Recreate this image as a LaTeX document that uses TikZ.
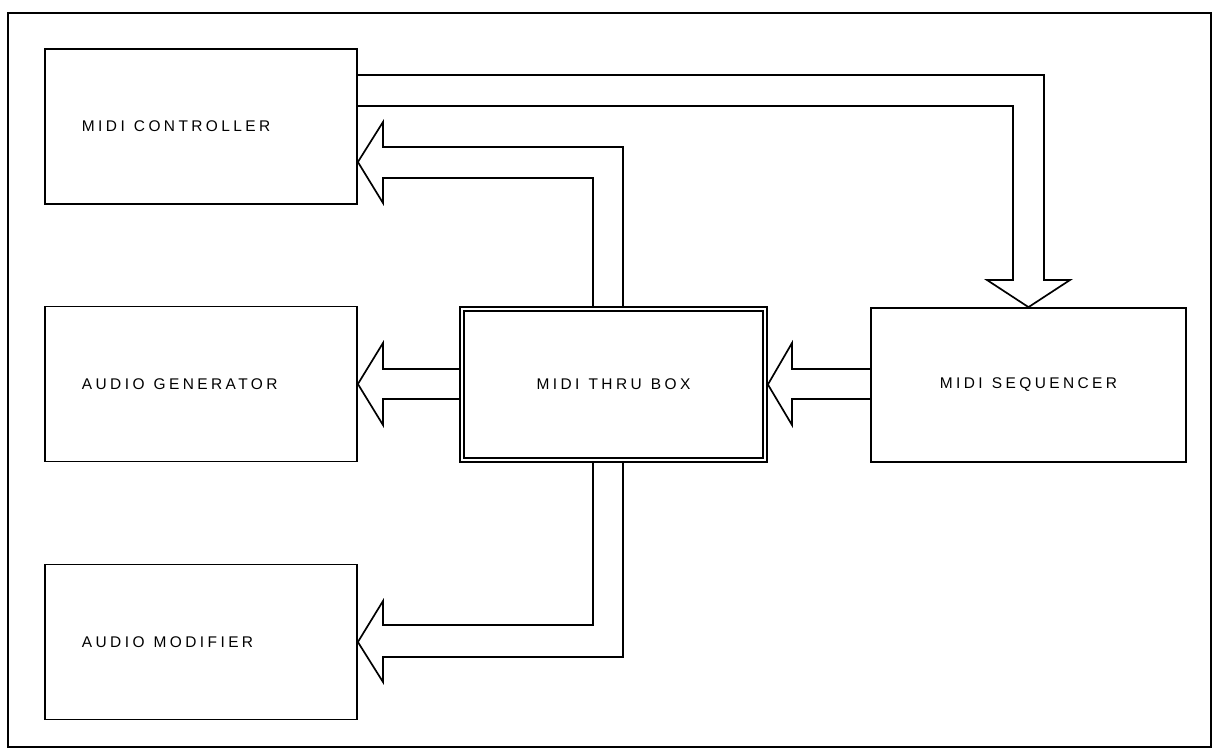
\documentclass[tikz,border=0pt]{standalone}
\usepackage{fontspec}
\usepackage{tikz}
\usetikzlibrary{calc}
\newfontfamily\plotfont[LetterSpace=22]{Liberation Sans}
\newcommand{\unitfont}{\plotfont\fontsize{11}{13}\selectfont\spaceskip=6.5pt\relax}

\begin{document}
\begin{tikzpicture}[
  x=0.025cm,y=-0.025cm,
  unit/.style={
    draw,
    line width=1.2pt,
    minimum width=7.8cm,
    minimum height=3.875cm,
    align=center,
    inner sep=0pt,
    font=\unitfont
  },
  leftunit/.style={
    unit,
    text width=5.95cm,
    align=flush left
  },
  pipe/.style={
    line width=1.2pt,
    line join=miter
  },
  frame/.style={
    line width=2pt
  }
]
\useasboundingbox (0,0) rectangle (1216,751);

% -------------------------------------------------
% Outer frame
% -------------------------------------------------
\draw[frame] (8,13) rectangle (1211,747);

% -------------------------------------------------
% Units
% -------------------------------------------------
\node[leftunit] (ctrl) at (201,126.5) {MIDI CONTROLLER};
\node[leftunit] (gen)  at (201,384)   {AUDIO GENERATOR};
\node[leftunit] (mod)  at (201,642)   {AUDIO MODIFIER};

\node[unit, minimum width=7.675cm] (thru) at (613.5,384.5) {MIDI THRU BOX};
\draw[line width=1.2pt] ($(thru.north west)+(5,5)$) rectangle ($(thru.south east)+(-5,-5)$);

\node[unit, minimum width=7.875cm, minimum height=3.85cm] (seq) at (1028.5,385)
  {MIDI SEQUENCER};

% -------------------------------------------------
% Block arrows
% -------------------------------------------------
% controller to sequencer
\draw[pipe] (ctrl.east |- 0,75) -- (1044,75) -- (1044,280) -- (1070,280)
  -- (seq.north) -- (987,280) -- (1013,280) -- (1013,106) -- (ctrl.east |- 0,106);

% thru box to controller
\draw[pipe] (thru.north -| 593,0) -- (593,178) -- (383,178) -- (383,203)
  -- (ctrl.east |- 0,162) -- (383,122) -- (383,147) -- (623,147) -- (thru.north -| 623,0);

% thru box to generator
\draw[pipe] (thru.west |- 0,369) -- (383,369) -- (383,343) -- (gen.east)
  -- (383,425) -- (383,399) -- (thru.west |- 0,399);

% sequencer to thru box
\draw[pipe] (seq.west |- 0,369) -- (792,369) -- (792,343) -- (thru.east)
  -- (792,425) -- (792,399) -- (seq.west |- 0,399);

% thru box to modifier
\draw[pipe] (thru.south -| 593,0) -- (593,625) -- (383,625) -- (383,601)
  -- (mod.east) -- (383,682) -- (383,657) -- (623,657) -- (thru.south -| 623,0);

\end{tikzpicture}
\end{document}
